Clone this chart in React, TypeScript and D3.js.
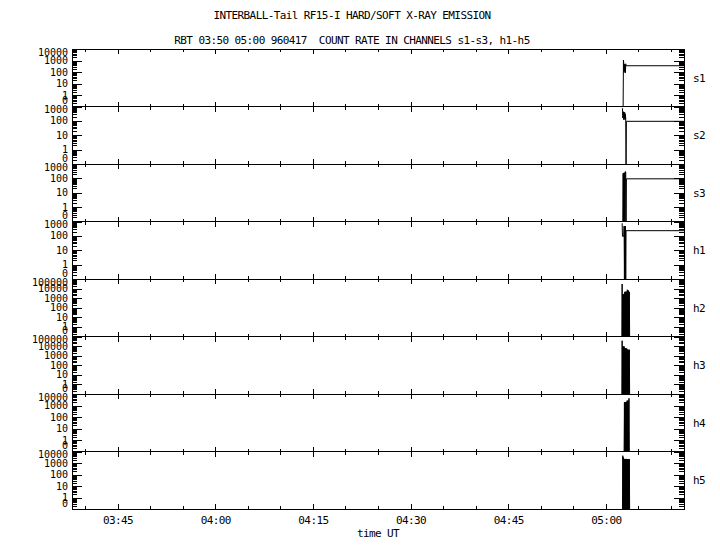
import React, { useEffect, useRef } from 'react';
import * as d3 from 'd3';

const title1 = "INTERBALL-Tail RF15-I HARD/SOFT X-RAY EMISSION";
const title2 = "RBT 03:50 05:00 960417  COUNT RATE IN CHANNELS s1-s3, h1-h5";
const xLabel = "time UT";

const day = "1996-04-17";
const timeStart = "03:38:00";
const timeEnd = "05:12:00";
const burstStart = "05:02:24";
const sampleSeconds = 3;

const channels = ["s1", "s2", "s3", "h1", "h2", "h3", "h4", "h5"];
const channelMax = [1e4, 1e3, 1e3, 1e3, 1e5, 1e5, 1e4, 1e4];

// counts per 3 s sample from burstStart (null = no data)
const s1Counts = [null, null, null, null, null, 0, 1100, 560, 90, 480, 120, 400, 85, 520, 350];
const s2Counts = [null, null, 800, 700, 160, 300, 430, 120, 400, 150, 380, 120, 300, 140, 0, 93];
const s3Counts = [null, null, null, null, 0, 220, 0, 240, 0, 250, 0, 0, 300, 280, 0, 93];
const h1Counts = [null, null, 750, 93, 90, 95, 93, 92, 480, 0, 460, 0, 470, 0, 230];
const h2Counts = [null, 0, 30000, 0, 2700, 0, 2600, 0, 2800, 0, 4500, 0, 4700, 0, 4600, 0, 4800, 0, 7500, 0, 7000, 0, 5000, 0, 4500, 0];
const h3Counts = [null, 0, 36000, 0, 9500, 0, 9000, 0, 9300, 0, 6000, 0, 5800, 0, 6000, 0, 5500, 0, 4300, 0, 4200, 0, 4000, 0, 4200, 0];
const h4Counts = [null, null, null, null, null, null, null, null, 0, 1900, 0, 1900, 0, 2000, 0, 2000, 0, 2600, 0, 2600, 0, 2700, 0, 4200, 0];
const h5Counts = [null, null, null, 0, 4300, 0, 3000, 0, 2300, 0, 2200, 0, 2200, 0, 2300, 0, 2200, 0, 2200, 0, 2200, 0, 2100, 0, 2200, 0];
// last value held until timeEnd
const holdCounts = [350, 93, 93, 230, null, null, null, null];

const parseT = (s: string) => new Date(`${day}T${s}Z`);

export default function App() {
  const ref = useRef<SVGSVGElement>(null);

  useEffect(() => {
    if (!ref.current) return;
    const svg = d3.select(ref.current);
    svg.selectAll("*").remove();

    const left = 72, right = 684, top = 49, bottom = 509;
    const font = "'DejaVu Sans Mono', monospace";
    const x = d3.scaleUtc().domain([parseT(timeStart), parseT(timeEnd)]).range([left, right]);
    const majorTimes = x.ticks(d3.utcMinute.every(15)!);
    const minorTimes = x.ticks(d3.utcMinute.every(5)!).filter(t => t.getUTCMinutes() % 15 !== 0);
    const panelH = (bottom - top) / channels.length;
    const channelCounts = [s1Counts, s2Counts, s3Counts, h1Counts, h2Counts, h3Counts, h4Counts, h5Counts];

    const tickAxis = (g: any, axis: any, tx: number, ty: number) => {
      const a = g.append("g").attr("transform", `translate(${tx},${ty})`).call(axis);
      a.selectAll("text").remove();
      a.select(".domain").remove();
      a.selectAll("line").attr("stroke", "#000").attr("shape-rendering", "crispEdges");
    };

    // titles
    svg.append("text").attr("x", 352).attr("y", 19).text(title1);
    svg.append("text").attr("x", 352).attr("y", 44).text(title2);
    svg.selectAll("text")
      .attr("text-anchor", "middle").attr("font-family", font).attr("font-size", 11)
      .attr("letter-spacing", -0.6).style("white-space", "pre");

    channels.forEach((name, i) => {
      const y0 = top + i * panelH, y1 = y0 + panelH;
      const y = d3.scaleLog().domain([0.1, channelMax[i]]).range([y1, y0]).clamp(true);
      const ticks = y.ticks();
      const isDecade = (v: number) => Math.abs(Math.log10(v) - Math.round(Math.log10(v))) < 1e-9;
      const majors = ticks.filter(isDecade);
      const minors = ticks.filter(v => !isDecade(v));
      const g = svg.append("g");

      g.append("rect").attr("x", left).attr("y", y0).attr("width", right - left).attr("height", panelH)
        .attr("fill", "none").attr("stroke", "#000").attr("shape-rendering", "crispEdges");

      tickAxis(g, d3.axisRight(y).tickValues(majors).tickSize(10), left, 0);
      tickAxis(g, d3.axisRight(y).tickValues(minors).tickSize(5), left, 0);
      tickAxis(g, d3.axisLeft(y).tickValues(majors).tickSize(10), right, 0);
      tickAxis(g, d3.axisLeft(y).tickValues(minors).tickSize(5), right, 0);
      tickAxis(g, d3.axisBottom(x).tickValues(majorTimes).tickSize(5), 0, y0);
      tickAxis(g, d3.axisBottom(x).tickValues(minorTimes).tickSize(3), 0, y0);
      tickAxis(g, d3.axisTop(x).tickValues(majorTimes).tickSize(5), 0, y1);
      tickAxis(g, d3.axisTop(x).tickValues(minorTimes).tickSize(3), 0, y1);

      g.selectAll(".ylab").data(majors).enter().append("text")
        .attr("x", 68)
        .attr("y", d => d === 0.1 ? y1 - 6 : d === channelMax[i] ? y0 + 3 : y(d))
        .attr("dy", "0.35em")
        .attr("text-anchor", "end").attr("font-family", font).attr("font-size", 10)
        .text(d => d < 1 ? "0" : d3.format("d")(d));

      g.append("text").attr("x", 693).attr("y", (y0 + y1) / 2).attr("dy", "0.35em")
        .attr("font-family", font).attr("font-size", 11).attr("letter-spacing", -0.6).text(name);

      const t0 = +parseT(burstStart);
      const pts: [Date, number | null][] = channelCounts[i].map((c, j) => [new Date(t0 + j * sampleSeconds * 1000), c]);
      if (holdCounts[i] != null) pts.push([parseT(timeEnd), holdCounts[i]]);
      const line = d3.line<[Date, number | null]>()
        .defined(d => d[1] != null)
        .x(d => x(d[0]))
        .y(d => y(Math.max(d[1] as number, 0.1)));
      g.append("path").attr("d", line(pts)).attr("fill", "none").attr("stroke", "#000").attr("stroke-width", 1);
    });

    const xa = svg.append("g").attr("transform", `translate(0,${bottom})`)
      .call(d3.axisBottom(x).tickValues(majorTimes).tickSize(0).tickPadding(7).tickFormat(d3.utcFormat("%H:%M") as any));
    xa.select(".domain").remove();
    xa.attr("font-family", font).attr("font-size", 11);
    xa.selectAll("text").attr("letter-spacing", -0.6).attr("fill", "#000");

    svg.append("text").attr("x", 378).attr("y", 536.5).attr("text-anchor", "middle")
      .attr("font-family", font).attr("font-size", 11).attr("letter-spacing", -0.6).text(xLabel);
  }, []);

  return (
    <svg ref={ref} width={720} height={550}
      style={{ position: 'absolute', left: 0, top: 0, background: '#fff' }} />
  );
}
